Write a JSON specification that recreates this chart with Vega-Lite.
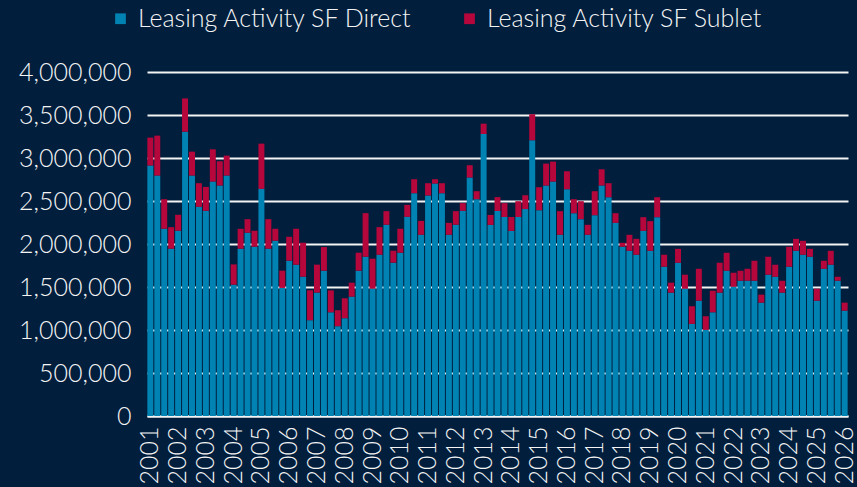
{
  "$schema": "https://vega.github.io/schema/vega-lite/v6.json",
  "width": 701,
  "height": 344,
  "autosize": {"type": "none"},
  "padding": {"left": 147, "top": 72, "right": 9, "bottom": 71},
  "background": "#011e3c",
  "config": {
    "view": {"stroke": null},
    "font": "Lato",
    "axis": {"labelColor": "#f4f4f4", "labelFont": "Lato", "labelFontSize": 25, "labelFontWeight": 300, "titleColor": "#f4f4f4"},
    "legend": {"labelColor": "#f4f4f4", "labelFont": "Lato", "labelFontSize": 25, "labelFontWeight": 300}
  },
  "data": {
    "values": [
      {"q": "2001 Q1", "Leasing Activity SF Direct": 2912000, "Leasing Activity SF Sublet": 325000},
      {"q": "2001 Q2", "Leasing Activity SF Direct": 2796000, "Leasing Activity SF Sublet": 464000},
      {"q": "2001 Q3", "Leasing Activity SF Direct": 2177000, "Leasing Activity SF Sublet": 344000},
      {"q": "2001 Q4", "Leasing Activity SF Direct": 1945000, "Leasing Activity SF Sublet": 251000},
      {"q": "2002 Q1", "Leasing Activity SF Direct": 2154000, "Leasing Activity SF Sublet": 186000},
      {"q": "2002 Q2", "Leasing Activity SF Direct": 3306000, "Leasing Activity SF Sublet": 387000},
      {"q": "2002 Q3", "Leasing Activity SF Direct": 2796000, "Leasing Activity SF Sublet": 278000},
      {"q": "2002 Q4", "Leasing Activity SF Direct": 2432000, "Leasing Activity SF Sublet": 275000},
      {"q": "2003 Q1", "Leasing Activity SF Direct": 2386000, "Leasing Activity SF Sublet": 278000},
      {"q": "2003 Q2", "Leasing Activity SF Direct": 2726000, "Leasing Activity SF Sublet": 375000},
      {"q": "2003 Q3", "Leasing Activity SF Direct": 2680000, "Leasing Activity SF Sublet": 282000},
      {"q": "2003 Q4", "Leasing Activity SF Direct": 2796000, "Leasing Activity SF Sublet": 232000},
      {"q": "2004 Q1", "Leasing Activity SF Direct": 1527000, "Leasing Activity SF Sublet": 236000},
      {"q": "2004 Q2", "Leasing Activity SF Direct": 1945000, "Leasing Activity SF Sublet": 232000},
      {"q": "2004 Q3", "Leasing Activity SF Direct": 2131000, "Leasing Activity SF Sublet": 158000},
      {"q": "2004 Q4", "Leasing Activity SF Direct": 1968000, "Leasing Activity SF Sublet": 186000},
      {"q": "2005 Q1", "Leasing Activity SF Direct": 2641000, "Leasing Activity SF Sublet": 526000},
      {"q": "2005 Q2", "Leasing Activity SF Direct": 1945000, "Leasing Activity SF Sublet": 344000},
      {"q": "2005 Q3", "Leasing Activity SF Direct": 2038000, "Leasing Activity SF Sublet": 139000},
      {"q": "2005 Q4", "Leasing Activity SF Direct": 1489000, "Leasing Activity SF Sublet": 201000},
      {"q": "2006 Q1", "Leasing Activity SF Direct": 1806000, "Leasing Activity SF Sublet": 278000},
      {"q": "2006 Q2", "Leasing Activity SF Direct": 1759000, "Leasing Activity SF Sublet": 418000},
      {"q": "2006 Q3", "Leasing Activity SF Direct": 1620000, "Leasing Activity SF Sublet": 395000},
      {"q": "2006 Q4", "Leasing Activity SF Direct": 1114000, "Leasing Activity SF Sublet": 348000},
      {"q": "2007 Q1", "Leasing Activity SF Direct": 1435000, "Leasing Activity SF Sublet": 325000},
      {"q": "2007 Q2", "Leasing Activity SF Direct": 1690000, "Leasing Activity SF Sublet": 274000},
      {"q": "2007 Q3", "Leasing Activity SF Direct": 1206000, "Leasing Activity SF Sublet": 255000},
      {"q": "2007 Q4", "Leasing Activity SF Direct": 1044000, "Leasing Activity SF Sublet": 186000},
      {"q": "2008 Q1", "Leasing Activity SF Direct": 1137000, "Leasing Activity SF Sublet": 232000},
      {"q": "2008 Q2", "Leasing Activity SF Direct": 1388000, "Leasing Activity SF Sublet": 162000},
      {"q": "2008 Q3", "Leasing Activity SF Direct": 1690000, "Leasing Activity SF Sublet": 209000},
      {"q": "2008 Q4", "Leasing Activity SF Direct": 1852000, "Leasing Activity SF Sublet": 507000},
      {"q": "2009 Q1", "Leasing Activity SF Direct": 1481000, "Leasing Activity SF Sublet": 348000},
      {"q": "2009 Q2", "Leasing Activity SF Direct": 1875000, "Leasing Activity SF Sublet": 321000},
      {"q": "2009 Q3", "Leasing Activity SF Direct": 2224000, "Leasing Activity SF Sublet": 158000},
      {"q": "2009 Q4", "Leasing Activity SF Direct": 1783000, "Leasing Activity SF Sublet": 139000},
      {"q": "2010 Q1", "Leasing Activity SF Direct": 1899000, "Leasing Activity SF Sublet": 278000},
      {"q": "2010 Q2", "Leasing Activity SF Direct": 2316000, "Leasing Activity SF Sublet": 139000},
      {"q": "2010 Q3", "Leasing Activity SF Direct": 2591000, "Leasing Activity SF Sublet": 162000},
      {"q": "2010 Q4", "Leasing Activity SF Direct": 2107000, "Leasing Activity SF Sublet": 162000},
      {"q": "2011 Q1", "Leasing Activity SF Direct": 2564000, "Leasing Activity SF Sublet": 143000},
      {"q": "2011 Q2", "Leasing Activity SF Direct": 2703000, "Leasing Activity SF Sublet": 50000},
      {"q": "2011 Q3", "Leasing Activity SF Direct": 2591000, "Leasing Activity SF Sublet": 116000},
      {"q": "2011 Q4", "Leasing Activity SF Direct": 2107000, "Leasing Activity SF Sublet": 139000},
      {"q": "2012 Q1", "Leasing Activity SF Direct": 2224000, "Leasing Activity SF Sublet": 158000},
      {"q": "2012 Q2", "Leasing Activity SF Direct": 2386000, "Leasing Activity SF Sublet": 89000},
      {"q": "2012 Q3", "Leasing Activity SF Direct": 2773000, "Leasing Activity SF Sublet": 143000},
      {"q": "2012 Q4", "Leasing Activity SF Direct": 2521000, "Leasing Activity SF Sublet": 93000},
      {"q": "2013 Q1", "Leasing Activity SF Direct": 3279000, "Leasing Activity SF Sublet": 120000},
      {"q": "2013 Q2", "Leasing Activity SF Direct": 2222000, "Leasing Activity SF Sublet": 116000},
      {"q": "2013 Q3", "Leasing Activity SF Direct": 2384000, "Leasing Activity SF Sublet": 161000},
      {"q": "2013 Q4", "Leasing Activity SF Direct": 2314000, "Leasing Activity SF Sublet": 161000},
      {"q": "2014 Q1", "Leasing Activity SF Direct": 2152000, "Leasing Activity SF Sublet": 162000},
      {"q": "2014 Q2", "Leasing Activity SF Direct": 2314000, "Leasing Activity SF Sublet": 184000},
      {"q": "2014 Q3", "Leasing Activity SF Direct": 2406000, "Leasing Activity SF Sublet": 161000},
      {"q": "2014 Q4", "Leasing Activity SF Direct": 3207000, "Leasing Activity SF Sublet": 302000},
      {"q": "2015 Q1", "Leasing Activity SF Direct": 2393000, "Leasing Activity SF Sublet": 267000},
      {"q": "2015 Q2", "Leasing Activity SF Direct": 2680000, "Leasing Activity SF Sublet": 255000},
      {"q": "2015 Q3", "Leasing Activity SF Direct": 2726000, "Leasing Activity SF Sublet": 232000},
      {"q": "2015 Q4", "Leasing Activity SF Direct": 2107000, "Leasing Activity SF Sublet": 275000},
      {"q": "2016 Q1", "Leasing Activity SF Direct": 2637000, "Leasing Activity SF Sublet": 209000},
      {"q": "2016 Q2", "Leasing Activity SF Direct": 2358000, "Leasing Activity SF Sublet": 163000},
      {"q": "2016 Q3", "Leasing Activity SF Direct": 2289000, "Leasing Activity SF Sublet": 209000},
      {"q": "2016 Q4", "Leasing Activity SF Direct": 2107000, "Leasing Activity SF Sublet": 116000},
      {"q": "2017 Q1", "Leasing Activity SF Direct": 2335000, "Leasing Activity SF Sublet": 279000},
      {"q": "2017 Q2", "Leasing Activity SF Direct": 2680000, "Leasing Activity SF Sublet": 189000},
      {"q": "2017 Q3", "Leasing Activity SF Direct": 2544000, "Leasing Activity SF Sublet": 163000},
      {"q": "2017 Q4", "Leasing Activity SF Direct": 2246000, "Leasing Activity SF Sublet": 112000},
      {"q": "2018 Q1", "Leasing Activity SF Direct": 1968000, "Leasing Activity SF Sublet": 46000},
      {"q": "2018 Q2", "Leasing Activity SF Direct": 1921000, "Leasing Activity SF Sublet": 186000},
      {"q": "2018 Q3", "Leasing Activity SF Direct": 1875000, "Leasing Activity SF Sublet": 185000},
      {"q": "2018 Q4", "Leasing Activity SF Direct": 2153000, "Leasing Activity SF Sublet": 159000},
      {"q": "2019 Q1", "Leasing Activity SF Direct": 1921000, "Leasing Activity SF Sublet": 345000},
      {"q": "2019 Q2", "Leasing Activity SF Direct": 2312000, "Leasing Activity SF Sublet": 232000},
      {"q": "2019 Q3", "Leasing Activity SF Direct": 1736000, "Leasing Activity SF Sublet": 139000},
      {"q": "2019 Q4", "Leasing Activity SF Direct": 1434000, "Leasing Activity SF Sublet": 116000},
      {"q": "2020 Q1", "Leasing Activity SF Direct": 1782000, "Leasing Activity SF Sublet": 162000},
      {"q": "2020 Q2", "Leasing Activity SF Direct": 1480000, "Leasing Activity SF Sublet": 163000},
      {"q": "2020 Q3", "Leasing Activity SF Direct": 1071000, "Leasing Activity SF Sublet": 205000},
      {"q": "2020 Q4", "Leasing Activity SF Direct": 1341000, "Leasing Activity SF Sublet": 371000},
      {"q": "2021 Q1", "Leasing Activity SF Direct": 1001000, "Leasing Activity SF Sublet": 159000},
      {"q": "2021 Q2", "Leasing Activity SF Direct": 1206000, "Leasing Activity SF Sublet": 251000},
      {"q": "2021 Q3", "Leasing Activity SF Direct": 1434000, "Leasing Activity SF Sublet": 348000},
      {"q": "2021 Q4", "Leasing Activity SF Direct": 1689000, "Leasing Activity SF Sublet": 209000},
      {"q": "2022 Q1", "Leasing Activity SF Direct": 1503000, "Leasing Activity SF Sublet": 163000},
      {"q": "2022 Q2", "Leasing Activity SF Direct": 1573000, "Leasing Activity SF Sublet": 116000},
      {"q": "2022 Q3", "Leasing Activity SF Direct": 1573000, "Leasing Activity SF Sublet": 139000},
      {"q": "2022 Q4", "Leasing Activity SF Direct": 1573000, "Leasing Activity SF Sublet": 232000},
      {"q": "2023 Q1", "Leasing Activity SF Direct": 1318000, "Leasing Activity SF Sublet": 93000},
      {"q": "2023 Q2", "Leasing Activity SF Direct": 1643000, "Leasing Activity SF Sublet": 209000},
      {"q": "2023 Q3", "Leasing Activity SF Direct": 1619000, "Leasing Activity SF Sublet": 140000},
      {"q": "2023 Q4", "Leasing Activity SF Direct": 1434000, "Leasing Activity SF Sublet": 139000},
      {"q": "2024 Q1", "Leasing Activity SF Direct": 1736000, "Leasing Activity SF Sublet": 232000},
      {"q": "2024 Q2", "Leasing Activity SF Direct": 1921000, "Leasing Activity SF Sublet": 139000},
      {"q": "2024 Q3", "Leasing Activity SF Direct": 1875000, "Leasing Activity SF Sublet": 162000},
      {"q": "2024 Q4", "Leasing Activity SF Direct": 1852000, "Leasing Activity SF Sublet": 92000},
      {"q": "2025 Q1", "Leasing Activity SF Direct": 1341000, "Leasing Activity SF Sublet": 139000},
      {"q": "2025 Q2", "Leasing Activity SF Direct": 1712000, "Leasing Activity SF Sublet": 93000},
      {"q": "2025 Q3", "Leasing Activity SF Direct": 1759000, "Leasing Activity SF Sublet": 162000},
      {"q": "2025 Q4", "Leasing Activity SF Direct": 1573000, "Leasing Activity SF Sublet": 46000},
      {"q": "2026 Q1", "Leasing Activity SF Direct": 1225000, "Leasing Activity SF Sublet": 93000}
    ]
  },
  "transform": [
    {"fold": ["Leasing Activity SF Direct", "Leasing Activity SF Sublet"], "as": ["series", "sf"]}
  ],
  "mark": {"type": "bar"},
  "encoding": {
    "x": {
      "field": "q",
      "type": "ordinal",
      "sort": null,
      "scale": {"paddingInner": 0.14, "paddingOuter": 0.05},
      "axis": {
        "title": null,
        "labelAngle": -90,
        "labelExpr": "slice(datum.value, 5) == 'Q1' ? slice(datum.value, 0, 4) : ''",
        "labelOverlap": false,
        "labelPadding": 10,
        "ticks": false,
        "domain": true,
        "domainColor": "#f4f4f4",
        "domainWidth": 2,
        "grid": false
      }
    },
    "y": {
      "field": "sf",
      "type": "quantitative",
      "stack": "zero",
      "scale": {"domain": [0, 4000000], "nice": false},
      "axis": {
        "title": null,
        "values": [0, 500000, 1000000, 1500000, 2000000, 2500000, 3000000, 3500000, 4000000],
        "format": ",d",
        "ticks": false,
        "domain": false,
        "grid": true,
        "gridColor": "#f4f4f4",
        "gridWidth": 2,
        "gridOpacity": 1,
        "labelPadding": 16
      }
    },
    "color": {
      "field": "series",
      "type": "nominal",
      "scale": {"domain": ["Leasing Activity SF Direct", "Leasing Activity SF Sublet"], "range": ["#0082b3", "#b5073b"]},
      "legend": {
        "title": null,
        "orient": "none",
        "direction": "horizontal",
        "legendX": -39,
        "legendY": -66,
        "symbolType": "square",
        "symbolSize": 115,
        "symbolStrokeWidth": 0,
        "symbolOpacity": 1,
        "labelOffset": 5,
        "columnPadding": 44,
        "labelLimit": 400,
        "padding": 0
      }
    },
    "order": {"field": "series", "sort": "ascending"}
  }
}
